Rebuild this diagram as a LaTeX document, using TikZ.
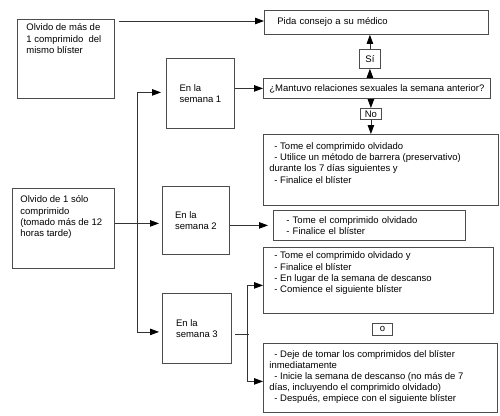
\documentclass[tikz,border=0pt]{standalone}
\usepackage{fontspec}
\setmainfont{Liberation Sans}
\usetikzlibrary{arrows.meta}
\newcommand{\tbx}[3]{\parbox[t][#2][t]{#1}{\raggedright\strut #3}}
\newcommand{\ind}{\hspace*{5pt}}
\begin{document}
\begin{tikzpicture}[x=1pt,y=-1pt,
  font=\fontsize{9.5}{11.2}\selectfont,
  box/.style={draw=black!70, line width=0.8pt, inner sep=0pt, anchor=north west},
  conn/.style={draw=black!80, line width=0.8pt},
  arr/.style={conn, -{Triangle[length=9pt,width=6.5pt,fill=black,color=black]}},
]
\useasboundingbox[fill=white] (0,0) rectangle (500,415);

% left boxes
\node[box, inner xsep=9pt, inner ysep=3.56pt] (A) at (17,19)
  {\tbx{79pt}{71.9pt}{Olvido de más de\\1 comprimido\ \ del\\mismo blíster}};
\node[box, inner xsep=8pt, inner ysep=6.56pt] (C) at (12,188)
  {\tbx{86pt}{66.9pt}{Olvido de 1 sólo\\comprimido\\(tomado más de 12\\horas tarde)}};

% week boxes
\node[box, minimum width=68pt, minimum height=70pt, align=left] (W1) at (166,58) {En la\\semana 1};
\node[box, minimum width=67pt, minimum height=68pt, align=left] (W2) at (162,186) {En la\\semana 2};
\node[box, minimum width=69pt, minimum height=70pt, align=left] (W3) at (162,293) {En la\\semana 3};

% right column
\node[box, minimum height=24pt, inner xsep=13pt, text width=198pt, align=left] (P) at (264,10) {Pida consejo a su médico};
\node[box, minimum width=21pt, minimum height=19pt] (S) at (359,49) {Sí};
\node[box, minimum width=227pt, minimum height=20pt] (M) at (263,78) {¿Mantuvo relaciones sexuales la semana anterior?};
\node[box, minimum width=21pt, minimum height=11pt] (N) at (360,108) {No};
\node[box, inner xsep=6pt, inner ysep=7.26pt] (B1) at (263,134)
  {\tbx{223pt}{56.5pt}{\ind- Tome el comprimido olvidado\\\ind- Utilice un método de barrera (preservativo)\\durante los 7 días siguientes y\\\hspace*{5pt}- Finalice el blíster}};
\node[box, minimum height=30pt, inner xsep=13pt, text width=166pt, align=left,
  font=\fontsize{9.5}{10.5}\selectfont] (B2) at (273,210)
  {- Tome el comprimido olvidado\\- Finalice el blíster};
\node[box, inner xsep=6pt, inner ysep=3.56pt] (B3) at (263,247)
  {\tbx{218pt}{58.9pt}{\ind- Tome el comprimido olvidado y\\\ind- Finalice el blíster\\\ind- En lugar de la semana de descanso\\\ind- Comience el siguiente blíster}};
\node[box, minimum width=20pt, minimum height=12pt] (O) at (372,323) {o};
\node[box, inner xsep=6pt, inner ysep=5.86pt] (B4) at (263,343)
  {\tbx{222pt}{57.3pt}{\ind- Deje de tomar los comprimidos del blíster\\inmediatamente\\\ind- Inicie la semana de descanso (no más de 7\\días, incluyendo el comprimido olvidado)\\\ind- Después, empiece con el siguiente blíster}};

% connectors
\coordinate (a0) at ([xshift=4pt,yshift=-2pt]A.north east);
\draw[arr] (a0) -- (a0 -| P.west);
\draw[arr] (M.north -| S) -- (S.south);
\draw[arr] (S.north) -- (S.north |- P.south);
\draw[arr] (M.south -| N) -- (N.north);
\draw[arr] (N.south) -- (N.south |- B1.north);
\draw[arr] (M.west -| W1.east) -- (M.west);

\coordinate (cw) at ([yshift=-3pt]W2.west);
\coordinate (tx) at (137,0);
\coordinate (w3in) at ([yshift=-3.5pt]W3.west);
\draw[arr, shorten >=3pt] (cw -| C.east) -- (cw);
\draw[arr, shorten >=5pt] (tx |- cw) |- ([yshift=1pt]W1.west);
\draw[arr, shorten >=3pt] (tx |- cw) |- (w3in);
\draw[arr, shorten >=5pt] (B2.west -| W2.east) -- (B2.west);

\coordinate (w3out) at ([xshift=3pt,yshift=-6pt]W3.east);
\coordinate (kx) at (247,0);
\coordinate (b3in) at ([yshift=-5pt]B3.west);
\coordinate (b4in) at ([yshift=-3.5pt]B4.west);
\draw[conn] (w3out) -- ([xshift=2pt]kx |- w3out);
\draw[arr] (kx |- w3out) |- (b3in);
\draw[arr] (kx |- w3out) |- (b4in);
\end{tikzpicture}
\end{document}
